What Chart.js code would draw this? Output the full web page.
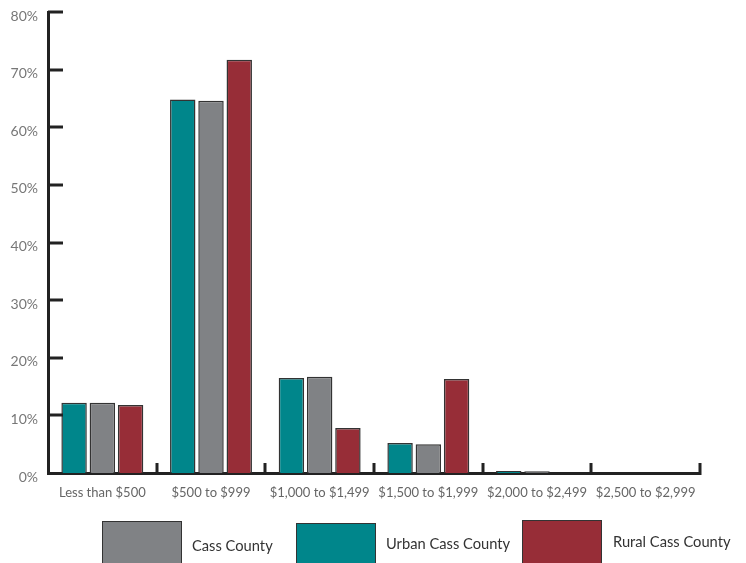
<!DOCTYPE html>
<html>
<head>
<meta charset="utf-8">
<script src="https://cdn.jsdelivr.net/npm/chart.js@4"></script>
<style>
  html, body { margin:0; padding:0; background:#fff; }
  #wrap { position:relative; width:746px; height:563px; overflow:hidden; font-family:Lato, sans-serif; }
  #chart { position:absolute; left:0; top:0; }
  .key { position:absolute; width:80px; height:44px; box-sizing:border-box; border:1px solid #333; }
  .lbl { position:absolute; font-size:14.7px; color:#333; }
</style>
</head>
<body>
<div id="wrap">
  <canvas id="chart" width="746" height="563"></canvas>
  <div class="key" style="left:102px;top:521px;background:#808285"></div>
  <div class="lbl" style="left:192px;top:536px">Cass County</div>
  <div class="key" style="left:296px;top:523px;background:#00868b"></div>
  <div class="lbl" style="left:386px;top:534px">Urban Cass County</div>
  <div class="key" style="left:522px;top:520px;background:#972d37"></div>
  <div class="lbl" style="left:613px;top:532px">Rural Cass County</div>
</div>
<script>
  const categories = ['Less than $500', '$500 to $999', '$1,000 to $1,499', '$1,500 to $1,999', '$2,000 to $2,499', '$2,500 to $2,999'];
  const urbanCass = [12.2, 64.8, 16.5, 5.2, 0.35, 0];
  const cassCounty = [12.2, 64.6, 16.7, 5.0, 0.3, 0];
  const ruralCass = [11.8, 71.7, 7.8, 16.3, 0, 0];
  const yTicks = [0, 10, 20, 30, 40, 50, 60, 70, 80];

  const axisColor = '#222';

  // inward tick marks on y, upward ones on x between the groups
  const innerTicks = {
    id: 'innerTicks',
    afterDraw(chart){
      const ctx = chart.ctx;
      const x = chart.scales.x, y = chart.scales.y;
      const left = chart.chartArea.left, bottom = chart.chartArea.bottom;
      ctx.save();
      ctx.strokeStyle = axisColor;
      ctx.lineWidth = 3;
      ctx.beginPath();
      yTicks.forEach(v => {
        if(v === 0) return;
        const py = Math.round(y.getPixelForValue(v));
        ctx.moveTo(left, py); ctx.lineTo(left + 15, py);
      });
      for(let i=1;i<=categories.length;i++){
        const px = Math.round((x.getPixelForValue(i-1) + x.getPixelForValue(i)) / 2);
        ctx.moveTo(px, bottom + 2); ctx.lineTo(px, bottom - 10);
      }
      ctx.stroke();
      ctx.restore();
    }
  };

  const ds = (label, data, color) => ({
    label, data,
    backgroundColor: color,
    borderColor: '#333',
    borderWidth: 1.5,
    borderSkipped: 'bottom',
    categoryPercentage: 0.78,
    barPercentage: 0.9
  });

  new Chart(document.getElementById('chart'), {
    type: 'bar',
    data: {
      labels: categories,
      datasets: [
        ds('Urban Cass County', urbanCass, '#00868b'),
        ds('Cass County', cassCounty, '#808285'),
        ds('Rural Cass County', ruralCass, '#972d37')
      ]
    },
    options: {
      responsive: false,
      animation: false,
      layout: { padding: { top: 12, right: 46, left: 0, bottom: 0 } },
      plugins: { legend: { display: false }, tooltip: { enabled: false } },
      scales: {
        x: {
          grid: { display: false, drawTicks: false },
          border: { color: axisColor, width: 3 },
          ticks: { color: '#666', padding: 12, maxRotation: 0, autoSkip: false, font: { family: 'Lato', size: 13 } },
          afterFit(s){ s.height = 90; s.paddingLeft = 0; s.paddingRight = 0; }
        },
        y: {
          min: 0, max: 80,
          grid: { display: false, drawTicks: false },
          border: { color: axisColor, width: 3 },
          afterBuildTicks(s){ s.ticks = yTicks.map(v => ({ value: v })); },
          ticks: { color: '#777', padding: 10, labelOffset: 4, font: { family: 'Lato', size: 14 }, callback: v => v + '%' },
          afterFit(s){ s.width = 48; s.paddingTop = 0; s.paddingBottom = 0; }
        }
      }
    },
    plugins: [innerTicks]
  });
</script>
</body>
</html>
